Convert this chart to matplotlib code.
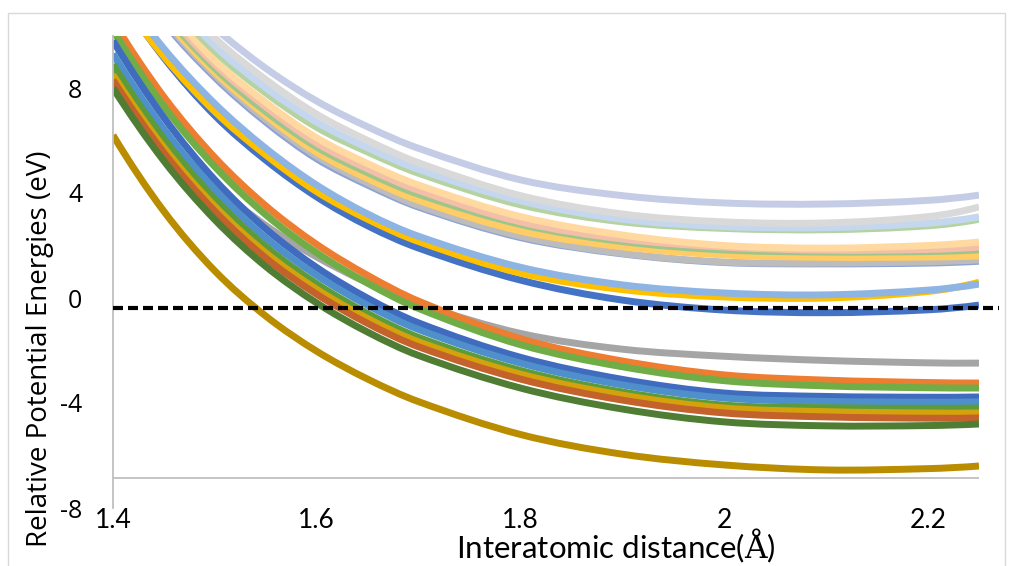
import matplotlib
matplotlib.use('Agg')
import matplotlib.pyplot as plt
from matplotlib.patches import Rectangle, PathPatch
from matplotlib.path import Path

plt.rcParams['mathtext.fontset'] = 'dejavuserif'

# sample points along the bond length (Angstrom)
x = [1.4, 1.45, 1.5, 1.55, 1.6, 1.65, 1.7, 1.8, 1.9, 2.0, 2.1, 2.2, 2.25]

# upper (pale) group
t_lavender = [14.8, 12.3, 10.3, 8.75, 7.5, 6.52, 5.7, 4.5, 3.9, 3.62, 3.58, 3.72, 3.92]
t_lgray    = [14.5, 11.95, 9.9, 8.32, 7.0, 6.0, 5.15, 3.9, 3.2, 2.9, 2.86, 3.1, 3.47]
t_pblue    = [14.3, 11.7, 9.6, 8.01, 6.7, 5.72, 4.9, 3.7, 3.0, 2.72, 2.68, 2.85, 3.09]
t_pgreen   = [14.1, 11.5, 9.4, 7.81, 6.5, 5.56, 4.75, 3.55, 2.9, 2.65, 2.6, 2.75, 3.0]
t_peach    = [13.8, 11.2, 9.05, 7.45, 6.1, 5.12, 4.3, 3.1, 2.4, 2.0, 1.9, 2.0, 2.13]
t_salmon   = [13.6, 11.0, 8.9, 7.28, 5.9, 4.92, 4.1, 2.9, 2.25, 1.94, 1.82, 1.85, 1.94]
t_green    = [13.5, 10.85, 8.75, 7.1, 5.75, 4.77, 3.95, 2.8, 2.15, 1.83, 1.75, 1.77, 1.83]
t_ogold    = [13.4, 10.7, 8.6, 6.95, 5.55, 4.55, 3.72, 2.55, 1.95, 1.64, 1.55, 1.56, 1.6]
t_bluelav  = [13.2, 10.5, 8.4, 6.7, 5.3, 4.3, 3.46, 2.3, 1.68, 1.35, 1.3, 1.33, 1.4]
t_gray     = [13.3, 10.6, 8.5, 6.8, 5.4, 4.38, 3.52, 2.35, 1.7, 1.37, 1.33, 1.38, 1.45]

# middle group
m_blue     = [11.9, 9.15, 6.95, 5.25, 3.85, 2.75, 1.9, 0.68, -0.08, -0.46, -0.56, -0.45, -0.27]
m_yellow   = [11.8, 9.2, 7.1, 5.45, 4.05, 3.0, 2.15, 0.95, 0.32, 0.04, 0.0, 0.25, 0.6]
m_lblue    = [12.1, 9.5, 7.4, 5.7, 4.3, 3.2, 2.35, 1.17, 0.5, 0.19, 0.12, 0.3, 0.53]

# lower group
l_gray     = [8.6, 6.2, 4.29, 2.76, 1.56, 0.58, -0.22, -1.35, -1.95, -2.22, -2.38, -2.47, -2.48]
l_orange   = [10.55, 7.66, 5.35, 3.51, 2.04, 0.86, -0.12, -1.55, -2.4, -2.93, -3.13, -3.22, -3.24]
l_green    = [10.2, 7.3, 5.0, 3.17, 1.72, 0.56, -0.4, -1.78, -2.62, -3.15, -3.35, -3.42, -3.43]
l_blue     = [9.8, 6.87, 4.5, 2.63, 1.16, -0.01, -0.95, -2.26, -3.1, -3.62, -3.75, -3.78, -3.77]
l_lblue    = [9.3, 6.43, 4.13, 2.29, 0.86, -0.28, -1.2, -2.48, -3.31, -3.81, -3.94, -3.97, -3.96]
l_green2   = [8.9, 6.06, 3.78, 1.96, 0.54, -0.59, -1.5, -2.76, -3.58, -4.08, -4.18, -4.2, -4.19]
l_gold     = [8.5, 5.73, 3.49, 1.72, 0.33, -0.78, -1.67, -2.9, -3.7, -4.19, -4.33, -4.38, -4.38]
l_dorange  = [8.3, 5.53, 3.3, 1.52, 0.14, -0.97, -1.86, -3.09, -3.89, -4.38, -4.53, -4.58, -4.57]
l_dgreen   = [8.0, 5.22, 2.98, 1.2, -0.19, -1.3, -2.19, -3.43, -4.23, -4.72, -4.87, -4.86, -4.80]
l_dgold    = [6.2, 3.3, 1.03, -0.69, -2.03, -3.09, -3.95, -5.2, -5.95, -6.36, -6.55, -6.5, -6.40]

reference_level = -0.38
axis_line_level = -6.86

curves = [
    (t_bluelav, '#8EA2D6'), (t_gray, '#BCBCBC'), (t_ogold, '#FFCC66'),
    (t_green, '#9FC68A'), (t_salmon, '#F4BFA8'), (t_peach, '#FFD9A0'),
    (t_pgreen, '#B5D3A0'), (t_pblue, '#C5D7EE'), (t_lgray, '#D9D9D9'),
    (t_lavender, '#C5CCE6'),
    (m_blue, '#4472C4'), (m_yellow, '#FFC000'), (m_lblue, '#8DB4E2'),
    (l_gray, '#A5A5A5'), (l_orange, '#ED7D31'), (l_green, '#70AD47'),
    (l_blue, '#3F6CBF'), (l_lblue, '#4F8FCB'), (l_green2, '#5B9B3C'),
    (l_gold, '#D4A20C'), (l_dorange, '#C4622B'), (l_dgreen, '#4F7D33'),
    (l_dgold, '#BA8C00'),
]


def smooth_path(xs, ys):
    # Excel-style smoothed line: cubic Bezier segments through the points
    n = len(xs)
    m = [0.0] * n
    for i in range(1, n - 1):
        m[i] = (ys[i + 1] - ys[i - 1]) / (xs[i + 1] - xs[i - 1])
    m[0] = 2 * (ys[1] - ys[0]) / (xs[1] - xs[0]) - m[1]
    m[-1] = 2 * (ys[-1] - ys[-2]) / (xs[-1] - xs[-2]) - m[-2]
    verts = [(xs[0], ys[0])]
    codes = [Path.MOVETO]
    for i in range(n - 1):
        h = xs[i + 1] - xs[i]
        verts += [(xs[i] + h / 3, ys[i] + m[i] * h / 3),
                  (xs[i + 1] - h / 3, ys[i + 1] - m[i + 1] * h / 3),
                  (xs[i + 1], ys[i + 1])]
        codes += [Path.CURVE4] * 3
    return Path(verts, codes)


fig = plt.figure(figsize=(10.16, 5.66), dpi=100)
ax = fig.add_axes([113/1016, 58/566, 866/1016, 472.5/566])

for y, c in curves:
    ax.add_patch(PathPatch(smooth_path(x, y), facecolor='none', edgecolor=c,
                           linewidth=5, capstyle='butt'))

ax.plot([1.4, 2.25], [axis_line_level, axis_line_level], color='#BFBFBF', linewidth=1.3, zorder=1)
ax.plot([1.4, 2.27], [reference_level, reference_level], color='black', linewidth=3,
        linestyle=(0, (2.4, 1.2)), clip_on=False, zorder=5)

ax.set_xlim(1.4, 2.25)
ax.set_ylim(-8, 10)
ax.set_xticks([1.4, 1.6, 1.8, 2.0, 2.2])
ax.set_xticklabels(['1.4', '1.6', '1.8', '2', '2.2'], fontsize=19, family='Lato')
ax.set_yticks([-8, -4, 0, 4, 8])
ax.set_yticklabels(['-8', '-4', '0', '4', '8'], fontsize=18, family='Open Sans')
ax.tick_params(axis='y', length=0, pad=22)
ax.tick_params(axis='x', length=0, pad=0)
for s in ['top', 'right', 'bottom']:
    ax.spines[s].set_visible(False)
ax.spines['left'].set_color('#BFBFBF')
ax.spines['left'].set_linewidth(1.3)

fig.text(40/1016, 1 - 349/566, 'Relative Potential Energies (eV)', rotation=90,
         ha='center', va='center', fontsize=20, family='Open Sans')
fig.text(616/1016, 1 - 558/566, r'Interatomic distance($\mathrm{Å}$)',
         ha='center', va='baseline', fontsize=22.5, family='Lato')

fig.patches.append(Rectangle((8/1016, -0.01), 997/1016, 1.01 - 13/566, transform=fig.transFigure,
                             fill=False, edgecolor='#D9D9D9', linewidth=1))

fig.savefig('out.png', dpi=100)
